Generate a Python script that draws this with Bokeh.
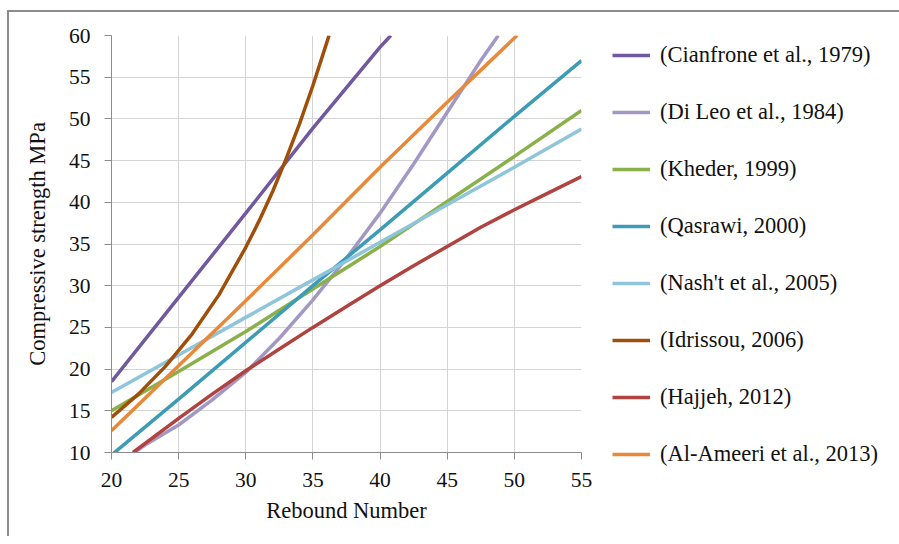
from bokeh.plotting import figure
from bokeh.models import Range1d, Legend, LegendItem, FixedTicker
from bokeh.embed import file_html
from bokeh.resources import INLINE

# ---- data ----
x_ticks = [20, 25, 30, 35, 40, 45, 50, 55]
y_ticks = [10, 15, 20, 25, 30, 35, 40, 45, 50, 55, 60]

cianfrone_x = [20, 25, 30, 35, 40, 40.8]
cianfrone_y = [18.5, 28.6, 38.7, 48.9, 58.6, 60.0]

dileo_x = [21.7, 22.5, 25, 27.5, 30, 32.5, 35, 37.5, 40, 42.5, 45, 47.5, 48.8]
dileo_y = [10.0, 10.9, 13.3, 16.3, 19.6, 23.7, 28.3, 33.3, 38.7, 44.6, 50.8, 57.0, 60.0]

kheder_x = [20, 25, 30, 35, 40, 45, 50, 55]
kheder_y = [15.0, 19.7, 24.5, 29.6, 34.7, 40.1, 45.5, 51.0]

qasrawi_x = [20, 25, 30, 35, 40, 45, 50, 55]
qasrawi_y = [9.7, 16.4, 23.2, 30.0, 36.7, 43.5, 50.3, 57.0]

nasht_x = [20, 25, 30, 35, 40, 45, 50, 55]
nasht_y = [17.2, 21.7, 26.2, 30.7, 35.2, 39.7, 44.2, 48.8]

idrissou_x = [20, 22, 24, 26, 28, 30, 31, 32, 33, 34, 35, 36, 36.2]
idrissou_y = [14.2, 17.0, 20.3, 24.2, 28.9, 34.6, 37.8, 41.3, 45.2, 49.4, 54.0, 59.0, 60.0]

hajjeh_x = [21.6, 25, 27.5, 30, 32.5, 35, 37.5, 40, 42.5, 45, 47.5, 50, 52.5, 55]
hajjeh_y = [10.0, 14.1, 17.0, 19.8, 22.4, 25.0, 27.5, 30.0, 32.4, 34.7, 37.0, 39.1, 41.1, 43.1]

alameeri_x = [20, 25, 30, 35, 40, 45, 50.2]
alameeri_y = [12.6, 20.4, 28.2, 36.1, 44.2, 52.0, 60.0]

labels = ["(Cianfrone et al., 1979)", "(Di Leo et al., 1984)", "(Kheder, 1999)",
          "(Qasrawi, 2000)", "(Nash't et al., 2005)", "(Idrissou, 2006)",
          "(Hajjeh, 2012)", "(Al-Ameeri et al., 2013)"]
colors = ["#71589F", "#A398C4", "#8AB04A", "#3C9BB5", "#8EC5DA", "#A04F0A",
          "#B0423F", "#E8893A"]

series = [(cianfrone_x, cianfrone_y), (dileo_x, dileo_y), (kheder_x, kheder_y),
          (qasrawi_x, qasrawi_y), (nasht_x, nasht_y), (idrissou_x, idrissou_y),
          (hajjeh_x, hajjeh_y), (alameeri_x, alameeri_y)]

FONT = "Liberation Serif"

p = figure(frame_width=470, frame_height=417,
           x_range=Range1d(20, 55), y_range=Range1d(10, 60),
           output_backend="svg", toolbar_location=None,
           min_border_left=102, min_border_top=23,
           min_border_right=300, min_border_bottom=84)
p.styles = {"border-left": "2px solid #8c8c8c", "border-top": "2px solid #8c8c8c",
            "margin-left": "7px", "margin-top": "10px"}
p.outline_line_color = None
p.background_fill_color = "white"
p.border_fill_color = "white"

p.xaxis.ticker = FixedTicker(ticks=x_ticks)
p.yaxis.ticker = FixedTicker(ticks=y_ticks)
p.xgrid.ticker = FixedTicker(ticks=x_ticks)
p.ygrid.ticker = FixedTicker(ticks=y_ticks)
for g in (p.xgrid, p.ygrid):
    g.grid_line_color = "#D4D4D4"
    g.grid_line_width = 1

for ax in (p.xaxis, p.yaxis):
    ax.axis_line_color = "#8C8C8C"
    ax.major_tick_line_color = "#8C8C8C"
    ax.minor_tick_line_color = None
    ax.major_tick_in = 0
    ax.major_tick_out = 7
    ax.major_label_text_font = FONT
    ax.major_label_text_font_size = "21.5px"
    ax.major_label_text_color = "#111111"
    ax.axis_label_text_font = FONT
    ax.axis_label_text_font_size = "22.5px"
    ax.axis_label_text_font_style = "normal"
    ax.axis_label_text_color = "#111111"

p.xaxis.axis_label = "Rebound Number"
p.yaxis.axis_label = "Compressive strength MPa"
p.xaxis.major_label_standoff = 13
p.yaxis.major_label_standoff = 14
p.xaxis.axis_label_standoff = 8
p.yaxis.axis_label_standoff = 16

items = []
for (xs, ys), c, lab in zip(series, colors, labels):
    r = p.line(xs, ys, line_color=c, line_width=3.5)
    items.append(LegendItem(label=lab, renderers=[r]))

legend = Legend(items=items, location=(31, -15))
legend.border_line_color = None
legend.background_fill_alpha = 0
legend.padding = 0
legend.margin = 0
legend.spacing = 31
legend.glyph_width = 38
legend.glyph_height = 26
legend.label_height = 26
legend.label_standoff = 10
legend.label_text_font = FONT
legend.label_text_font_size = "22.5px"
legend.label_text_color = "#111111"
p.add_layout(legend, "right")

open("out.html", "w").write(file_html(p, INLINE))
